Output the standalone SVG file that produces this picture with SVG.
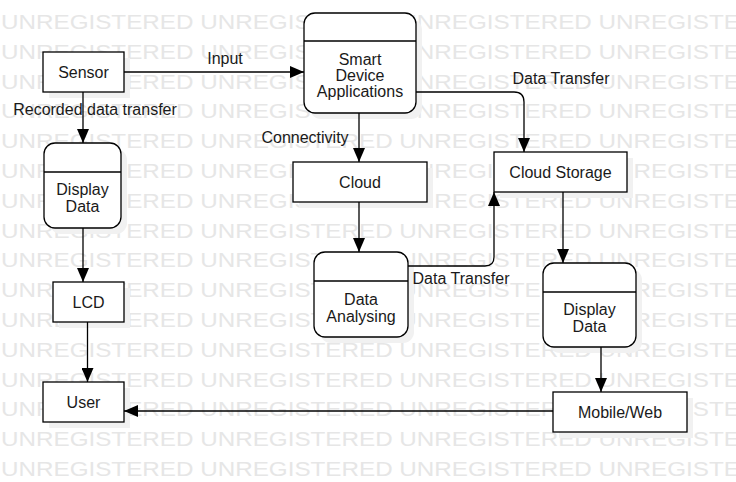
<svg xmlns="http://www.w3.org/2000/svg" width="736" height="482" viewBox="0 0 736 482">
<style>
.wm{font-family:"Liberation Sans",Arial,sans-serif;font-size:20px;fill:#e6e6e6}
.sh{fill:#f1f1f1;stroke:none}
.box{fill:#fff;stroke:#000;stroke-width:1.3}
.t{font-family:"Liberation Sans",Arial,sans-serif;font-size:16px;fill:#1a1a1a;text-anchor:middle}
.c{fill:none;stroke:#000;stroke-width:1.3}
</style>
<defs>
<marker id="ah" markerUnits="userSpaceOnUse" markerWidth="14" markerHeight="12" refX="14" refY="6" orient="auto" viewBox="0 0 14 12">
<path d="M0,0 L14,6 L0,12 Z" fill="#000"/>
</marker>
</defs>
<rect width="736" height="482" fill="#fff"/>
<g id="watermark">
<text class="wm" x="1" y="29" textLength="790" lengthAdjust="spacingAndGlyphs">UNREGISTERED UNREGISTERED UNREGISTERED UNREGISTERED</text>
<text class="wm" x="1" y="58.8" textLength="790" lengthAdjust="spacingAndGlyphs">UNREGISTERED UNREGISTERED UNREGISTERED UNREGISTERED</text>
<text class="wm" x="1" y="88.6" textLength="790" lengthAdjust="spacingAndGlyphs">UNREGISTERED UNREGISTERED UNREGISTERED UNREGISTERED</text>
<text class="wm" x="1" y="118.4" textLength="790" lengthAdjust="spacingAndGlyphs">UNREGISTERED UNREGISTERED UNREGISTERED UNREGISTERED</text>
<text class="wm" x="1" y="148.2" textLength="790" lengthAdjust="spacingAndGlyphs">UNREGISTERED UNREGISTERED UNREGISTERED UNREGISTERED</text>
<text class="wm" x="1" y="178" textLength="790" lengthAdjust="spacingAndGlyphs">UNREGISTERED UNREGISTERED UNREGISTERED UNREGISTERED</text>
<text class="wm" x="1" y="207.8" textLength="790" lengthAdjust="spacingAndGlyphs">UNREGISTERED UNREGISTERED UNREGISTERED UNREGISTERED</text>
<text class="wm" x="1" y="237.6" textLength="790" lengthAdjust="spacingAndGlyphs">UNREGISTERED UNREGISTERED UNREGISTERED UNREGISTERED</text>
<text class="wm" x="1" y="267.4" textLength="790" lengthAdjust="spacingAndGlyphs">UNREGISTERED UNREGISTERED UNREGISTERED UNREGISTERED</text>
<text class="wm" x="1" y="297.2" textLength="790" lengthAdjust="spacingAndGlyphs">UNREGISTERED UNREGISTERED UNREGISTERED UNREGISTERED</text>
<text class="wm" x="1" y="327" textLength="790" lengthAdjust="spacingAndGlyphs">UNREGISTERED UNREGISTERED UNREGISTERED UNREGISTERED</text>
<text class="wm" x="1" y="356.8" textLength="790" lengthAdjust="spacingAndGlyphs">UNREGISTERED UNREGISTERED UNREGISTERED UNREGISTERED</text>
<text class="wm" x="1" y="386.6" textLength="790" lengthAdjust="spacingAndGlyphs">UNREGISTERED UNREGISTERED UNREGISTERED UNREGISTERED</text>
<text class="wm" x="1" y="416.4" textLength="790" lengthAdjust="spacingAndGlyphs">UNREGISTERED UNREGISTERED UNREGISTERED UNREGISTERED</text>
<text class="wm" x="1" y="446.2" textLength="790" lengthAdjust="spacingAndGlyphs">UNREGISTERED UNREGISTERED UNREGISTERED UNREGISTERED</text>
<text class="wm" x="1" y="476" textLength="790" lengthAdjust="spacingAndGlyphs">UNREGISTERED UNREGISTERED UNREGISTERED UNREGISTERED</text>
</g>
<g id="shadows">
<rect class="sh" x="49" y="58" width="81" height="40"/>
<rect class="sh" x="310" y="19" width="112" height="100" rx="11"/>
<rect class="sh" x="50" y="149" width="77" height="85" rx="11"/>
<rect class="sh" x="59" y="288" width="71" height="40"/>
<rect class="sh" x="49" y="388" width="81" height="40"/>
<rect class="sh" x="299" y="168" width="134" height="40"/>
<rect class="sh" x="320" y="258" width="94" height="85" rx="11"/>
<rect class="sh" x="500" y="158" width="133" height="40"/>
<rect class="sh" x="549" y="269" width="93" height="84" rx="11"/>
<rect class="sh" x="559" y="398" width="134" height="40"/>
</g>
<g id="connectors">
<path class="c" d="M124,72 H304" marker-end="url(#ah)"/>
<path class="c" d="M83,92 V143" marker-end="url(#ah)"/>
<path class="c" d="M83,228 V282" marker-end="url(#ah)"/>
<path class="c" d="M87.5,322 V382" marker-end="url(#ah)"/>
<path class="c" d="M359,113 V162" marker-end="url(#ah)"/>
<path class="c" d="M416,92 H514 Q524,92 524,102 V152" marker-end="url(#ah)"/>
<path class="c" d="M359,202 V252" marker-end="url(#ah)"/>
<path class="c" d="M408,266 H485 Q494,266 494,257 V192" marker-end="url(#ah)"/>
<path class="c" d="M563,192 V263" marker-end="url(#ah)"/>
<path class="c" d="M601,347 V392" marker-end="url(#ah)"/>
<path class="c" d="M553,411 H124" marker-end="url(#ah)"/>
<text class="t" x="225" y="63.5">Input</text>
<text class="t" x="95" y="114.5">Recorded data transfer</text>
<text class="t" x="305" y="142.5">Connectivity</text>
<text class="t" x="561" y="83.5">Data Transfer</text>
<text class="t" x="461" y="283.5">Data Transfer</text>
</g>
<g id="sensor">
<rect class="box" x="43" y="52" width="81" height="40"/>
<text class="t" x="83.5" y="77.5">Sensor</text>
</g>
<g id="smart-device-applications">
<rect class="box" x="304" y="13" width="112" height="100" rx="11"/>
<line class="c" x1="304" y1="41" x2="416" y2="41"/>
<text class="t" x="360" y="64.5">Smart</text>
<text class="t" x="360" y="81">Device</text>
<text class="t" x="360" y="97">Applications</text>
</g>
<g id="display-data-left">
<rect class="box" x="44" y="143" width="77" height="85" rx="11"/>
<line class="c" x1="44" y1="172" x2="121" y2="172"/>
<text class="t" x="82.5" y="194.5">Display</text>
<text class="t" x="82.5" y="211.5">Data</text>
</g>
<g id="lcd">
<rect class="box" x="53" y="282" width="71" height="40"/>
<text class="t" x="88.5" y="307.5">LCD</text>
</g>
<g id="user">
<rect class="box" x="43" y="382" width="81" height="40"/>
<text class="t" x="83.5" y="407.5">User</text>
</g>
<g id="cloud">
<rect class="box" x="293" y="162" width="134" height="40"/>
<text class="t" x="360" y="187.5">Cloud</text>
</g>
<g id="data-analysing">
<rect class="box" x="314" y="252" width="94" height="85" rx="11"/>
<line class="c" x1="314" y1="281" x2="408" y2="281"/>
<text class="t" x="361" y="304.5">Data</text>
<text class="t" x="361" y="321.5">Analysing</text>
</g>
<g id="cloud-storage">
<rect class="box" x="494" y="152" width="133" height="40"/>
<text class="t" x="560.5" y="177.5">Cloud Storage</text>
</g>
<g id="display-data-right">
<rect class="box" x="543" y="263" width="93" height="84" rx="11"/>
<line class="c" x1="543" y1="292" x2="636" y2="292"/>
<text class="t" x="589.5" y="314.5">Display</text>
<text class="t" x="589.5" y="331.5">Data</text>
</g>
<g id="mobile-web">
<rect class="box" x="553" y="392" width="134" height="40"/>
<text class="t" x="620" y="417.5">Mobile/Web</text>
</g>
</svg>
